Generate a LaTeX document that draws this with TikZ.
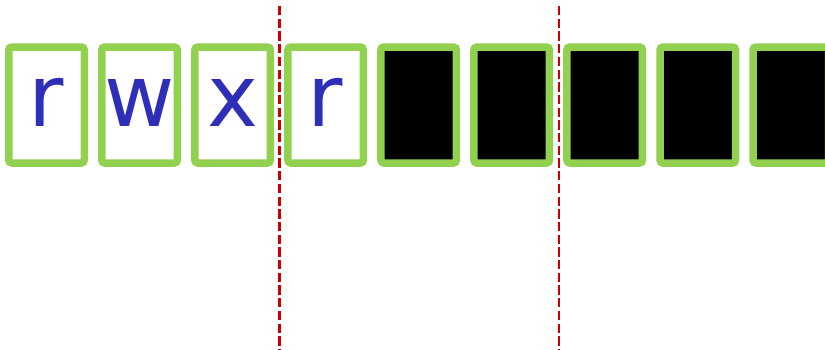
\documentclass[tikz,border=0pt]{standalone}
\usepackage{fontspec}
\setmainfont{DejaVu Sans}
\definecolor{boxgreen}{RGB}{146,208,80}
\definecolor{letterblue}{RGB}{46,46,184}
\definecolor{divred}{RGB}{204,0,0}
\begin{document}
\begin{tikzpicture}[x=1pt,y=-1pt,
  cell/.style={draw=boxgreen, line width=7.5pt, rounded corners=3pt,
    minimum width=75.5pt, minimum height=116pt, inner sep=0pt},
  filled/.style={cell, fill=black},
  letter/.style={text=letterblue, font=\fontsize{86}{86}\selectfont, anchor=base, inner sep=0pt},
  divider/.style={draw=divred, line width=2.5pt, dash pattern=on 9.3pt off 3.4pt}
]
\useasboundingbox (0,0) rectangle (825,349);
\node[cell]   (c1) at (46.5,105) {};
\node[cell]   (c2) at (139.5,105) {};
\node[cell]   (c3) at (232.6,105) {};
\node[cell]   (c4) at (325.6,105) {};
\node[filled] (c5) at (418.7,105) {};
\node[filled] (c6) at (511.7,105) {};
\node[filled] (c7) at (604.7,105) {};
\node[filled] (c8) at (697.8,105) {};
\node[filled] (c9) at (790.8,105) {};
\node[letter] (l1) at (46.5,126.7) {r};
\node[letter] (l2) at (139.5,126.7) {w};
\node[letter] (l3) at (232.6,126.7) {x};
\node[letter] (l4) at (325.6,126.7) {r};
\coordinate (d1t) at (279.3,6);
\coordinate (d1b) at (279.3,349);
\coordinate (d2t) at (558.8,6);
\coordinate (d2b) at (558.8,349);
\draw[divider] (d1t) -- (d1b);
\draw[divider] (d2t) -- (d2b);
\end{tikzpicture}
\end{document}
